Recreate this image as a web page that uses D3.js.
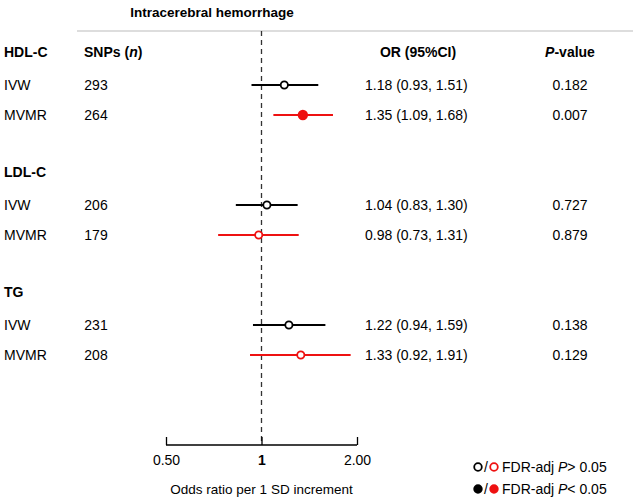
<!DOCTYPE html>
<html><head><meta charset="utf-8">
<script src="https://cdn.jsdelivr.net/npm/d3@7"></script>
<style>body{margin:0;background:#fff}svg{font-family:Arial,"Liberation Sans",Helvetica,sans-serif}</style>
</head><body><div id="chart"></div>
<script>
const groups = ["HDL-C", "LDL-C", "TG"];
const methods = ["IVW", "MVMR"];
const snps = [[293, 264], [206, 179], [231, 208]];
const orValues = [[1.18, 1.35], [1.04, 0.98], [1.22, 1.33]];
const ciLow = [[0.93, 1.09], [0.83, 0.73], [0.94, 0.92]];
const ciHigh = [[1.51, 1.68], [1.30, 1.31], [1.59, 1.91]];
const pValues = ["0.182", "0.007", "0.727", "0.879", "0.138", "0.129"];
const significant = [[false, true], [false, false], [false, false]];
const axisTicks = [0.5, 1, 2];
const axisTickLabels = ["0.50", "1", "2.00"];

const W = 633, H = 500;
const svg = d3.select("#chart").append("svg").attr("width", W).attr("height", H);
const x = d3.scaleLog().domain([0.5, 2]).range([166, 357]);
const methodColor = ["#000000", "#ee1111"];
const fs = 14;

const groupY = i => 52 + i * 120;
const rowY = (i, j) => groupY(i) + 33 + j * 30;

svg.append("text").attr("x", 212).attr("y", 17).attr("text-anchor", "middle")
  .attr("font-weight", "bold").attr("font-size", 13.5).text("Intracerebral hemorrhage");
svg.append("line").attr("x1", 77).attr("x2", 633).attr("y1", 31).attr("y2", 31)
  .attr("stroke", "#bbb").attr("stroke-width", 1);

svg.append("line").attr("x1", x(1)).attr("x2", x(1)).attr("y1", 31).attr("y2", 445)
  .attr("stroke", "#333").attr("stroke-width", 1.3).attr("stroke-dasharray", "5,4");

svg.append("text").attr("x", 84).attr("y", groupY(0) + 5).attr("font-weight", "bold").attr("font-size", fs)
  .html('SNPs (<tspan font-style="italic">n</tspan>)');
svg.append("text").attr("x", 418).attr("y", groupY(0) + 5).attr("text-anchor", "middle").attr("font-weight", "bold").attr("font-size", fs)
  .text("OR (95%CI)");
svg.append("text").attr("x", 570).attr("y", groupY(0) + 5).attr("text-anchor", "middle").attr("font-weight", "bold").attr("font-size", fs)
  .html('<tspan font-style="italic">P</tspan>-value');

groups.forEach((g, i) => {
  svg.append("text").attr("x", 4).attr("y", groupY(i) + 5).attr("font-weight", "bold").attr("font-size", fs).text(g);
  methods.forEach((m, j) => {
    const y = rowY(i, j);
    const col = methodColor[j];
    svg.append("text").attr("x", 4).attr("y", y + 5).attr("font-size", fs).text(m);
    svg.append("text").attr("x", 96).attr("y", y + 5).attr("text-anchor", "middle").attr("font-size", fs).text(snps[i][j]);
    svg.append("line").attr("x1", x(ciLow[i][j])).attr("x2", x(ciHigh[i][j])).attr("y1", y).attr("y2", y)
      .attr("stroke", col).attr("stroke-width", 2);
    svg.append("circle").attr("cx", x(orValues[i][j])).attr("cy", y).attr("r", significant[i][j] ? 4.3 : 3.6)
      .attr("fill", significant[i][j] ? col : "#fff").attr("stroke", col).attr("stroke-width", 1.8);
    svg.append("text").attr("x", 365).attr("y", y + 5).attr("font-size", fs)
      .text(`${orValues[i][j].toFixed(2)} (${ciLow[i][j].toFixed(2)}, ${ciHigh[i][j].toFixed(2)})`);
    svg.append("text").attr("x", 570).attr("y", y + 5).attr("text-anchor", "middle").attr("font-size", fs)
      .text(pValues[i * 2 + j]);
  });
});

const axis = d3.axisBottom(x).tickValues(axisTicks).tickFormat((d, k) => axisTickLabels[k]).tickSize(-8).tickPadding(10);
const ag = svg.append("g").attr("transform", "translate(0,445)").call(axis);
ag.select(".domain").attr("d", `M${x(0.5)},0H${x(2)}`).attr("stroke", "#000").attr("stroke-width", 1.3);
ag.selectAll(".tick line").attr("stroke", "#000").attr("stroke-width", 1.3);
ag.selectAll(".tick text").attr("font-size", fs).attr("font-family", "Arial, 'Liberation Sans', sans-serif").attr("fill", "#000")
  .attr("font-weight", (d) => d === 1 ? "bold" : "normal");
svg.append("text").attr("x", x(1)).attr("y", 494).attr("text-anchor", "middle").attr("font-size", 13.5)
  .text("Odds ratio per 1 SD increment");

const leg = [{open: true, label: "> 0.05", y: 467}, {open: false, label: "< 0.05", y: 489}];
leg.forEach(l => {
  svg.append("circle").attr("cx", 478).attr("cy", l.y).attr("r", 3.8)
    .attr("fill", l.open ? "#fff" : "#000").attr("stroke", "#000").attr("stroke-width", 1.8);
  svg.append("text").attr("x", 486).attr("y", l.y + 5).attr("text-anchor", "middle").attr("font-size", fs).text("/");
  svg.append("circle").attr("cx", 494).attr("cy", l.y).attr("r", 3.8)
    .attr("fill", l.open ? "#fff" : "#ee1111").attr("stroke", "#ee1111").attr("stroke-width", 1.8);
  svg.append("text").attr("x", 502).attr("y", l.y + 5).attr("font-size", fs)
    .html(`FDR-adj <tspan font-style="italic">P</tspan>${l.label}`);
});
</script></body></html>
